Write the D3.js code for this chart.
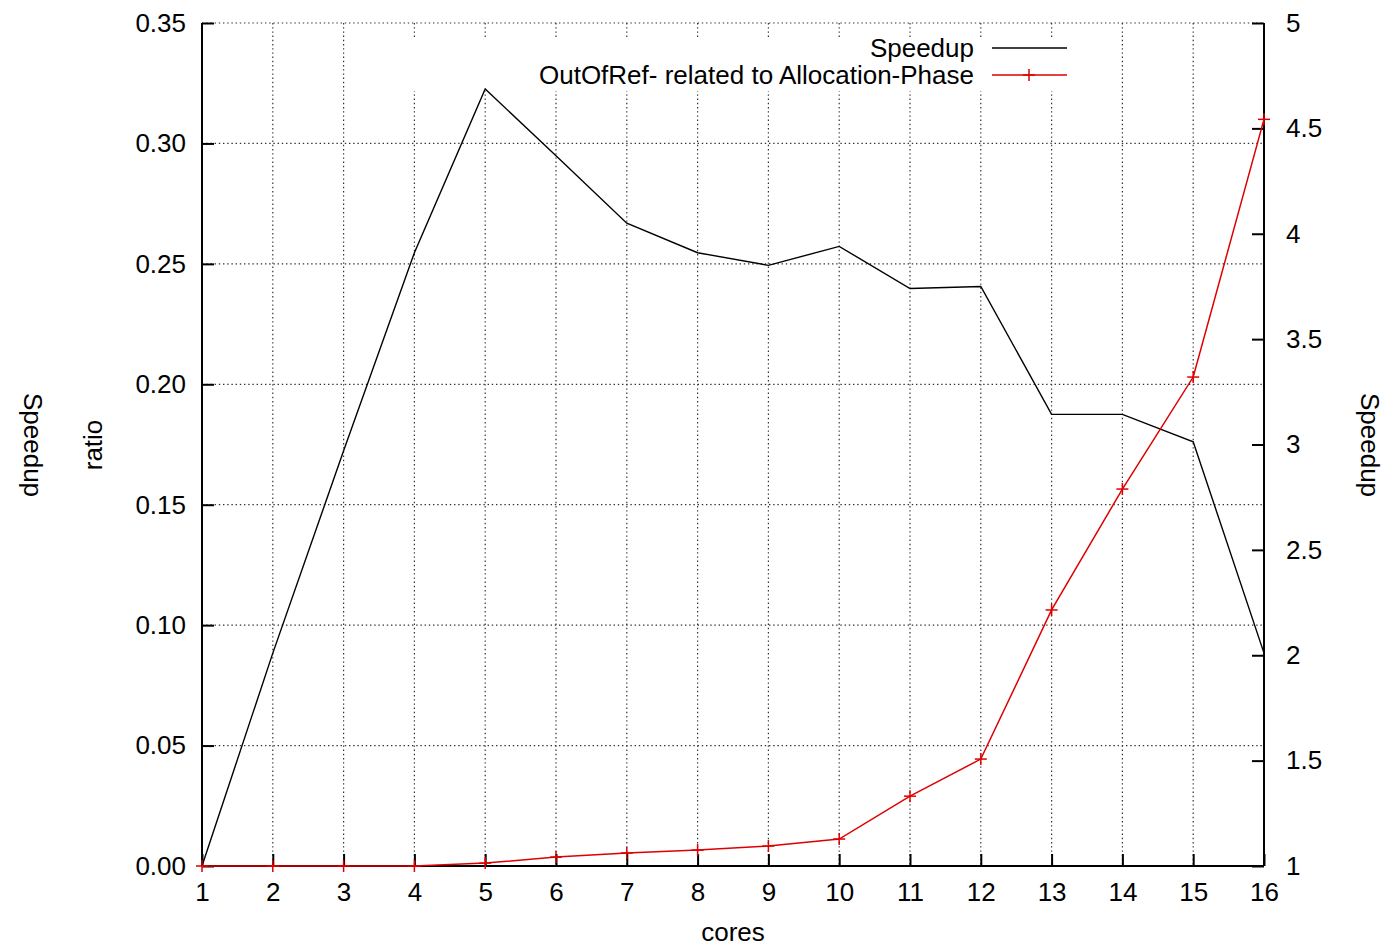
<!DOCTYPE html>
<html>
<head>
<meta charset="utf-8">
<script src="https://cdn.jsdelivr.net/npm/d3@7"></script>
<style>
  html, body { margin: 0; padding: 0; background: #fff; }
  svg text { font-family: "Liberation Sans", Arial, Helvetica, sans-serif; fill: #000; }
</style>
</head>
<body>
<svg id="chart" width="1400" height="948"></svg>
<script>
// ---- data ----
const cores = [1, 2, 3, 4, 5, 6, 7, 8, 9, 10, 11, 12, 13, 14, 15, 16];
const speedup = [1.0, 2.01, 2.97, 3.91, 4.687, 4.37, 4.05, 3.91, 3.85, 3.94, 3.74, 3.75, 3.143, 3.143, 3.013, 2.01];
const outOfRef = [0, 0, 0, 0, 0.0012, 0.0037, 0.0054, 0.0066, 0.0083, 0.0112, 0.029, 0.0444, 0.1063, 0.1565, 0.203, 0.310];
const xTicks = [1, 2, 3, 4, 5, 6, 7, 8, 9, 10, 11, 12, 13, 14, 15, 16];
const yLeftTicks = [0, 0.05, 0.10, 0.15, 0.20, 0.25, 0.30, 0.35];
const yRightTicks = [1, 1.5, 2, 2.5, 3, 3.5, 4, 4.5, 5];
const seriesNames = ["Speedup", "OutOfRef- related to Allocation-Phase"];

// ---- layout ----
const L = 202, R = 1264, T = 23, B = 866;
const svg = d3.select("#chart");
const x = d3.scaleLinear().domain([1, 16]).range([L, R]);
const yL = d3.scaleLinear().domain([0, 0.35]).range([B, T]);
const yR = d3.scaleLinear().domain([1, 5]).range([B, T]);
const FS = 26;
const red = "#dd0000";

// grid
const grid = svg.append("g");
grid.selectAll("line.v").data(xTicks.filter(d => d > 1 && d < 16)).enter().append("line")
  .attr("x1", d => x(d)).attr("x2", d => x(d)).attr("y1", T).attr("y2", B)
  .attr("stroke", "#333").attr("stroke-width", 1.2).attr("stroke-dasharray", "1.4,2.8");
grid.selectAll("line.h").data(yLeftTicks.filter(d => d > 0)).enter().append("line")
  .attr("x1", L).attr("x2", R).attr("y1", d => yL(d)).attr("y2", d => yL(d))
  .attr("stroke", "#333").attr("stroke-width", 1.2).attr("stroke-dasharray", "1.4,2.8");

// opaque key area
svg.append("rect").attr("x", 400).attr("y", 37).attr("width", 680).attr("height", 54).attr("fill", "#fff");

// axes
const axL = d3.axisLeft(yL).tickValues(yLeftTicks).tickSize(-12).tickPadding(16).tickFormat(d3.format(".2f"));
const axR = d3.axisRight(yR).tickValues(yRightTicks).tickSize(-12).tickPadding(22).tickFormat(d => String(d));
const axB = d3.axisBottom(x).tickValues(xTicks).tickSize(-12).tickPadding(24).tickFormat(d3.format("d"));

function styleAxis(g) {
  g.select(".domain").attr("stroke", "#000").attr("stroke-width", 2);
  g.selectAll(".tick line").attr("stroke", "#000").attr("stroke-width", 2);
  g.selectAll(".tick text").attr("font-size", FS).attr("font-family", "Liberation Sans, Arial, sans-serif").attr("fill", "#000");
}
const gL = svg.append("g").attr("transform", `translate(${L},0)`).call(axL).call(styleAxis);
gL.select(".domain").attr("d", `M0,${B}V${T}`);
const gR = svg.append("g").attr("transform", `translate(${R},0)`).call(axR).call(styleAxis);
gR.select(".domain").attr("d", `M0,${B}V${T}`);
const gB = svg.append("g").attr("transform", `translate(0,${B})`).call(axB).call(styleAxis);
gB.select(".domain").attr("d", `M${L},0H${R}`);
gB.selectAll(".tick text").attr("y", 35).attr("dy", "0");

// axis titles
svg.append("text").attr("x", 733).attr("y", 941).attr("text-anchor", "middle").attr("font-size", FS).text("cores");
svg.append("text").attr("transform", "translate(93,445) rotate(-90)").attr("text-anchor", "middle").attr("dy", "0.35em").attr("font-size", FS).text("ratio");
svg.append("text").attr("transform", "translate(33,445) rotate(90)").attr("text-anchor", "middle").attr("dy", "0.35em").attr("font-size", FS).text("Speedup");
svg.append("text").attr("transform", "translate(1370,445) rotate(90)").attr("text-anchor", "middle").attr("dy", "0.35em").attr("font-size", FS).text("Speedup");

// series
const spData = cores.map((c, i) => ({ c, v: speedup[i] }));
const orData = cores.map((c, i) => ({ c, v: outOfRef[i] }));

svg.append("path").datum(spData)
  .attr("d", d3.line().x(d => x(d.c)).y(d => yR(d.v)))
  .attr("fill", "none").attr("stroke", "#000").attr("stroke-width", 1.4);

svg.append("path").datum(orData)
  .attr("d", d3.line().x(d => x(d.c)).y(d => yL(d.v)))
  .attr("fill", "none").attr("stroke", red).attr("stroke-width", 1.5);

const plus = (g, cx, cy, s) => {
  g.append("line").attr("x1", cx - s).attr("x2", cx + s).attr("y1", cy).attr("y2", cy).attr("stroke", red).attr("stroke-width", 1.5);
  g.append("line").attr("x1", cx).attr("x2", cx).attr("y1", cy - s).attr("y2", cy + s).attr("stroke", red).attr("stroke-width", 1.5);
};
const mk = svg.append("g");
orData.forEach(d => plus(mk, x(d.c), yL(d.v), 6));

// legend
const lg = svg.append("g");
lg.append("text").attr("x", 974).attr("y", 57).attr("text-anchor", "end").attr("font-size", FS).text(seriesNames[0]);
lg.append("text").attr("x", 974).attr("y", 84).attr("text-anchor", "end").attr("font-size", FS).text(seriesNames[1]);
lg.append("line").attr("x1", 992).attr("x2", 1067).attr("y1", 48).attr("y2", 48).attr("stroke", "#000").attr("stroke-width", 1.4);
lg.append("line").attr("x1", 992).attr("x2", 1067).attr("y1", 75).attr("y2", 75).attr("stroke", red).attr("stroke-width", 1.5);
plus(lg, 1029, 75, 6);
</script>
</body>
</html>
